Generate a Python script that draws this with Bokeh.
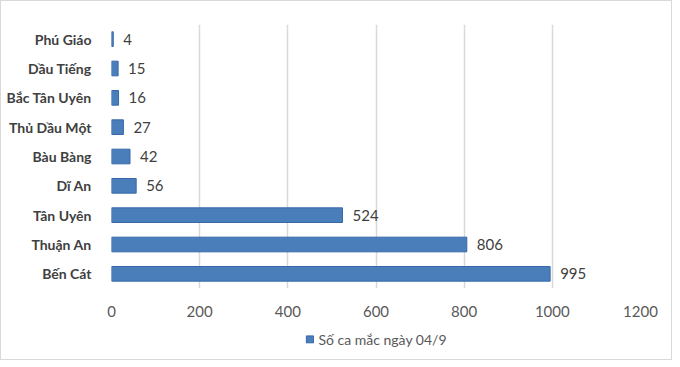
from bokeh.plotting import figure
from bokeh.layouts import column
from bokeh.models import ColumnDataSource, LabelSet, Legend, LegendItem, Range1d, FixedTicker
from bokeh.core.properties import value
from bokeh.embed import file_html
from bokeh.resources import INLINE

districts = ["Phú Giáo", "Dầu Tiếng", "Bắc Tân Uyên", "Thủ Dầu Một", "Bàu Bàng",
             "Dĩ An", "Tân Uyên", "Thuận An", "Bến Cát"]
cases = [4, 15, 16, 27, 42, 56, 524, 806, 995]
x_ticks = [0, 200, 400, 600, 800, 1000, 1200]
series_name = "Số ca mắc ngày 04/9"

BAR_FILL = "#4A7EBB"
BAR_LINE = "#3868A8"

src = ColumnDataSource(dict(d=districts, v=cases, lbl=[str(c) for c in cases]))

p = figure(width=670, height=324, output_backend="svg", toolbar_location=None,
           y_range=list(reversed(districts)), x_range=Range1d(0, 1200),
           min_border_left=110, min_border_right=31, min_border_top=23, min_border_bottom=37)
p.outline_line_color = None
r = p.hbar(y="d", right="v", left=0, height=0.5, source=src,
           fill_color=BAR_FILL, line_color=BAR_LINE, line_width=1)

labels = LabelSet(x="v", y="d", text="lbl", source=src, x_offset=10,
                  text_baseline="middle", text_font=value("Lato"), text_font_size="15px",
                  text_color="#404040")
p.add_layout(labels)

p.xaxis.ticker = FixedTicker(ticks=x_ticks)
p.xaxis.axis_line_color = None
p.xaxis.major_tick_line_color = None
p.xaxis.minor_tick_line_color = None
p.xaxis.major_label_text_font = "Lato"
p.xaxis.major_label_text_font_size = "15px"
p.xaxis.major_label_text_color = "#595959"
p.xaxis.major_label_standoff = 11

p.yaxis.axis_line_color = None
p.yaxis.major_tick_line_color = None
p.yaxis.minor_tick_line_color = None
p.yaxis.major_label_text_font = "Lato"
p.yaxis.major_label_text_font_style = "bold"
p.yaxis.major_label_text_font_size = "14px"
p.yaxis.major_label_text_color = "#404040"
p.yaxis.major_label_standoff = 14

p.xgrid.grid_line_color = "#D9D9D9"
p.xgrid.grid_line_width = 1.5
p.ygrid.grid_line_color = None

# legend strip below the chart
nan = float("nan")
p2 = figure(width=670, height=34, output_backend="svg", toolbar_location=None,
            x_range=Range1d(0, 1), y_range=Range1d(0, 1),
            min_border_left=0, min_border_right=0, min_border_top=0, min_border_bottom=6)
p2.axis.visible = False
p2.grid.visible = False
p2.outline_line_color = None
r2 = p2.hbar(y=[nan], right=[nan], left=[nan], height=0.5,
             fill_color=BAR_FILL, line_color=BAR_LINE, line_width=1)
legend = Legend(items=[LegendItem(label=series_name, renderers=[r2])],
                orientation="horizontal", location="center",
                glyph_width=9, glyph_height=9, label_text_font="Lato",
                label_text_font_size="14px", label_text_color="#595959",
                border_line_color=None, background_fill_alpha=0,
                margin=0, padding=0, label_standoff=5)
p2.add_layout(legend)

layout = column(p, p2, spacing=0, styles={"border": "1px solid #D9D9D9"})
open("out.html", "w").write(file_html(layout, INLINE))
